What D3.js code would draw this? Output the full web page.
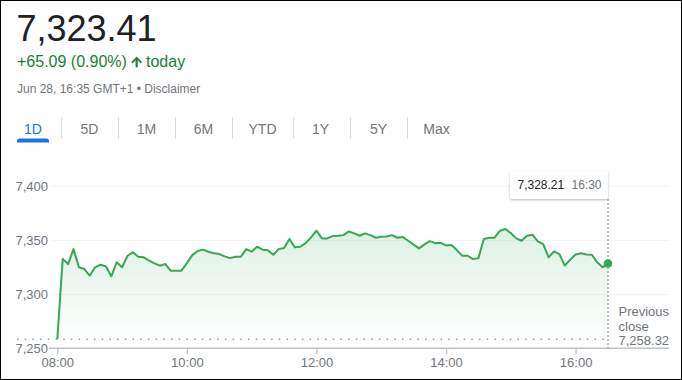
<!DOCTYPE html>
<html>
<head>
<meta charset="utf-8">
<script src="https://cdn.jsdelivr.net/npm/d3@7"></script>
<style>
  html, body { margin: 0; padding: 0; background: #fff; }
  svg { display: block; font-family: Arial, "Liberation Sans", sans-serif; }
</style>
</head>
<body>
<svg id="chart" width="682" height="380"></svg>
<script>
// ---- data ----
const times = [
  "08:00","08:05","08:10","08:15","08:20","08:25","08:30","08:35","08:40","08:45","08:50","08:55",
  "09:00","09:05","09:10","09:15","09:20","09:25","09:30","09:35","09:40","09:45","09:50","09:55",
  "10:00","10:05","10:10","10:15","10:20","10:25","10:30","10:35","10:40","10:45","10:50","10:55",
  "11:00","11:05","11:10","11:15","11:20","11:25","11:30","11:35","11:40","11:45","11:50","11:55",
  "12:00","12:05","12:10","12:15","12:20","12:25","12:30","12:35","12:40","12:45","12:50","12:55",
  "13:00","13:05","13:10","13:15","13:20","13:25","13:30","13:35","13:40","13:45","13:50","13:55",
  "14:00","14:05","14:10","14:15","14:20","14:25","14:30","14:35","14:40","14:45","14:50","14:55",
  "15:00","15:05","15:10","15:15","15:20","15:25","15:30","15:35","15:40","15:45","15:50","15:55",
  "16:00","16:05","16:10","16:15","16:20","16:25","16:30"
];
const prices = [
  7258.3, 7332.3, 7327.7, 7341.5, 7324.7, 7323.1, 7317.0, 7324.7, 7327.1, 7325.6, 7316.4, 7329.3,
  7324.7, 7335.4, 7338.5, 7334.5, 7333.9, 7330.8, 7328.4, 7326.2, 7327.7, 7321.6, 7321.6, 7321.6,
  7328.6, 7336.0, 7339.7, 7341.0, 7339.1, 7337.6, 7336.9, 7334.8, 7333.2, 7334.5, 7334.5, 7341.5,
  7339.1, 7343.7, 7341.0, 7340.5, 7336.3, 7341.5, 7342.5, 7350.8, 7343.1, 7343.7, 7347.0, 7352.3,
  7358.5, 7351.4, 7351.4, 7353.5, 7353.8, 7354.4, 7357.8, 7356.0, 7353.8, 7356.0, 7354.4, 7352.0,
  7352.9, 7353.2, 7354.4, 7352.0, 7352.6, 7349.2, 7345.6, 7342.2, 7345.9, 7348.9, 7347.0, 7347.3,
  7344.9, 7345.3, 7340.6, 7335.4, 7335.4, 7332.3, 7333.2, 7350.8, 7352.0, 7352.0, 7358.5, 7360.0,
  7356.3, 7351.4, 7349.2, 7353.9, 7354.8, 7348.6, 7346.1, 7333.9, 7339.4, 7336.9, 7326.2, 7331.8,
  7336.6, 7337.6, 7336.6, 7336.3, 7329.3, 7324.7, 7328.21
];
const xTickLabels = ["08:00", "10:00", "12:00", "14:00", "16:00"];
const yTickValues = [7250, 7300, 7350, 7400];
const previousClose = 7258.32;
const currentPrice = "7,323.41";
const changeText = "+65.09 (0.90%)";
const dateText = "Jun 28, 16:35 GMT+1 \u2022 Disclaimer";
const tabs = ["1D", "5D", "1M", "6M", "YTD", "1Y", "5Y", "Max"];

// ---- helpers ----
const toMin = s => { const [h, m] = s.split(":").map(Number); return h * 60 + m; };
const data = times.map((t, i) => ({ t: toMin(t), label: t, v: prices[i] }));

const svg = d3.select("#chart");
const W = 682, H = 380;

// frame border
svg.append("rect").attr("x", 0.5).attr("y", 0.5).attr("width", W - 1).attr("height", H - 1)
  .attr("fill", "#fff").attr("stroke", "#000").attr("stroke-width", 1);

// ---- header ----
svg.append("text").attr("x", 16.5).attr("y", 41).attr("font-size", 36).attr("fill", "#202124")
  .text(currentPrice);
svg.append("text").attr("x", 17).attr("y", 67).attr("font-size", 16).attr("fill", "#188038")
  .text(changeText);
svg.append("path")
  .attr("d", "M4 12l1.41 1.41L11 7.83V20h2V7.83l5.58 5.59L20 12l-8-8-8 8z")
  .attr("transform", "translate(129.2,54.6) scale(0.62)")
  .attr("fill", "#188038").attr("stroke", "#188038").attr("stroke-width", 1.4)
  .attr("stroke-linejoin", "miter");
svg.append("text").attr("x", 146).attr("y", 67).attr("font-size", 16).attr("fill", "#188038")
  .text("today");
svg.append("text").attr("x", 17).attr("y", 93).attr("font-size", 12).attr("fill", "#70757a")
  .text(dateText);

// ---- tabs ----
const tabCenters = [33, 89.5, 146.5, 203.5, 262.5, 320.5, 378.5, 436.5];
const tabSeps = [61.5, 118.5, 175.5, 232.5, 293.5, 350.5, 407.5];
tabs.forEach((t, i) => {
  svg.append("text").attr("x", tabCenters[i]).attr("y", 133.5).attr("text-anchor", "middle")
    .attr("font-size", 14).attr("fill", i === 0 ? "#1a73e8" : "#70757a").text(t);
});
tabSeps.forEach(x => {
  svg.append("line").attr("x1", x).attr("x2", x).attr("y1", 117).attr("y2", 138.5)
    .attr("stroke", "#dadce0").attr("stroke-width", 1);
});
svg.append("path")
  .attr("d", "M17,142.5 L17,141 Q17,138.5 19.5,138.5 L46.5,138.5 Q49,138.5 49,141 L49,142.5 Z")
  .attr("fill", "#1a73e8");

// ---- scales ----
const x = d3.scaleLinear().domain([toMin("08:00"), toMin("16:30")]).range([57.3, 608]);
const y = d3.scaleLinear().domain([7250, 7400]).range([348.3, 185.7]);
const gridLeft = 52, gridRight = 669;

// gridlines + y labels
const yAxis = d3.axisLeft(y).tickValues(yTickValues).tickFormat(d3.format(","))
  .tickSize(-(gridRight - gridLeft)).tickPadding(4);
const gy = svg.append("g").attr("transform", `translate(${gridLeft},0)`).call(yAxis);
gy.select(".domain").remove();
gy.selectAll(".tick line").attr("stroke", "#f1f3f4").attr("stroke-width", 1)
  .filter(d => d === 7250).remove();
gy.selectAll(".tick text").attr("fill", "#70757a").attr("font-size", 13)
  .attr("font-family", "Arial, 'Liberation Sans', sans-serif").attr("dy", "0.36em");

// area gradient
const defs = svg.append("defs");
const grad = defs.append("linearGradient").attr("id", "areaGrad")
  .attr("x1", 0).attr("y1", 0).attr("x2", 0).attr("y2", 1);
grad.append("stop").attr("offset", 0).attr("stop-color", "#34a853").attr("stop-opacity", 0.16);
grad.append("stop").attr("offset", 1).attr("stop-color", "#34a853").attr("stop-opacity", 0.0);

const area = d3.area().x(d => x(d.t)).y0(y(7250)).y1(d => y(d.v));
svg.append("path").datum(data).attr("d", area).attr("fill", "url(#areaGrad)");

// previous close dotted line
svg.append("line").attr("x1", 17).attr("x2", 607).attr("y1", y(previousClose)).attr("y2", y(previousClose))
  .attr("stroke", "#9aa0a6").attr("stroke-width", 1.5).attr("stroke-dasharray", "1.5,6.2");

// x axis
const xAxis = d3.axisBottom(x).tickValues(xTickLabels.map(toMin))
  .tickFormat((d, i) => xTickLabels[i]).tickSize(6).tickPadding(3);
const gx = svg.append("g").attr("transform", `translate(0,${y(7250)})`).call(xAxis);
gx.select(".domain").remove();
gx.selectAll(".tick line").attr("stroke", "#bdc1c6").attr("stroke-width", 1.2);
gx.selectAll(".tick text").attr("fill", "#70757a").attr("font-size", 13)
  .attr("font-family", "Arial, 'Liberation Sans', sans-serif");
svg.append("line").attr("x1", 49).attr("x2", gridRight).attr("y1", y(7250)).attr("y2", y(7250))
  .attr("stroke", "#bdc1c6").attr("stroke-width", 1.5);

// price line
const line = d3.line().x(d => x(d.t)).y(d => y(d.v));
svg.append("path").datum(data).attr("d", line).attr("fill", "none")
  .attr("stroke", "#34a853").attr("stroke-width", 2).attr("stroke-linejoin", "round");

// hover vertical line + tooltip
const last = data[data.length - 1];
svg.append("line").attr("x1", x(last.t)).attr("x2", x(last.t)).attr("y1", 199).attr("y2", y(7250))
  .attr("stroke", "#80868b").attr("stroke-width", 1).attr("stroke-dasharray", "2,2");
svg.append("circle").attr("cx", x(last.t)).attr("cy", y(last.v)).attr("r", 4.3).attr("fill", "#34a853");

const filt = defs.append("filter").attr("id", "shadow").attr("x", "-20%").attr("y", "-30%")
  .attr("width", "140%").attr("height", "170%");
filt.append("feDropShadow").attr("dx", 0).attr("dy", 1).attr("stdDeviation", 1.2)
  .attr("flood-color", "#000").attr("flood-opacity", 0.28);
const tipX = x(last.t) - 98, tipY = 171;
svg.append("rect").attr("x", tipX).attr("y", tipY).attr("width", 98).attr("height", 28)
  .attr("rx", 2).attr("fill", "#fff").attr("filter", "url(#shadow)");
svg.append("text").attr("x", tipX + 7.5).attr("y", tipY + 17.5).attr("font-size", 12).attr("fill", "#202124")
  .text(d3.format(",.2f")(last.v));
svg.append("text").attr("x", tipX + 61.5).attr("y", tipY + 17.5).attr("font-size", 12).attr("fill", "#70757a")
  .text(last.label);

// previous close label
const pc = svg.append("text").attr("font-size", 13).attr("fill", "#70757a");
pc.append("tspan").attr("x", 618.5).attr("y", 316).text("Previous");
pc.append("tspan").attr("x", 618.5).attr("y", 330.5).text("close");
pc.append("tspan").attr("x", 618.5).attr("y", 345).text(d3.format(",.2f")(previousClose));
</script>
</body>
</html>
